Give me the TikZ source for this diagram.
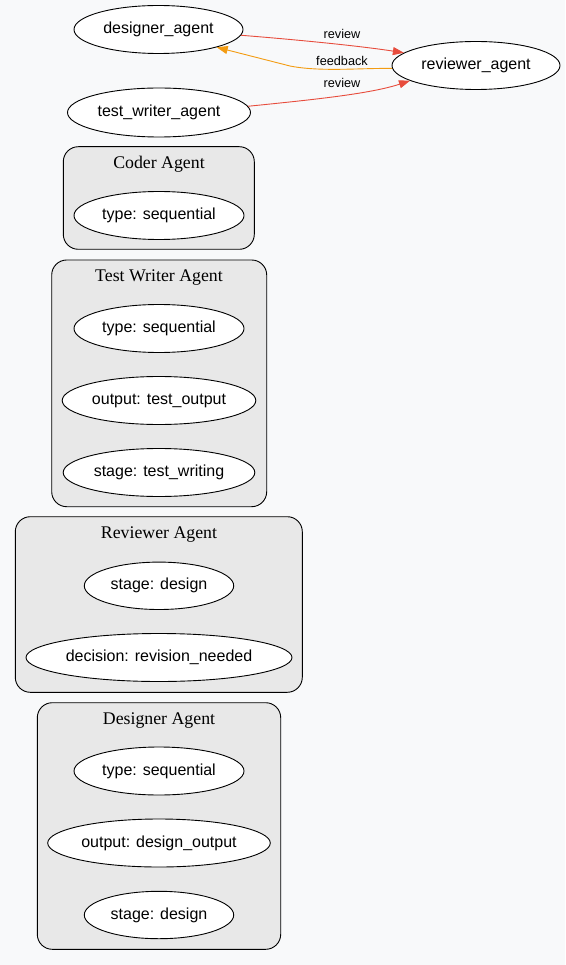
\documentclass[tikz,border=0pt]{standalone}
\usepackage{fontspec}
\setmainfont{Liberation Sans}
\newfontfamily\titlefont{Liberation Serif}
\usetikzlibrary{shapes.geometric,arrows.meta}
\definecolor{bgc}{HTML}{F8F9FA}
\definecolor{clusterfill}{HTML}{E8E8E8}
\definecolor{revred}{HTML}{E74C3C}
\definecolor{fborange}{HTML}{F39C12}
\tikzset{
  agent/.style={draw=black, fill=white, ellipse, inner sep=0pt, line width=0.9pt,
    font=\fontsize{16}{19}\selectfont},
  cluster/.style={draw=black, fill=clusterfill, rounded corners=15pt, line width=0.9pt},
  ctitle/.style={font=\titlefont\fontsize{17.8}{20}\selectfont, inner sep=0pt},
  elabel/.style={font=\fontsize{12.7}{15}\selectfont, inner sep=0pt},
  conn/.style={line width=0.9pt, -{Triangle[length=11pt,width=8pt]}},
}
\begin{document}
\begin{tikzpicture}[x=1pt,y=-1pt]
\fill[bgc] (0,0) rectangle (565,965);
\useasboundingbox (0,0) rectangle (565,965);

% top nodes
\node[agent, minimum width=169pt, minimum height=48pt] (designer) at (158.5,29.5) {designer\_agent};
\node[agent, minimum width=168pt, minimum height=48pt] (reviewer) at (476,65.5) {reviewer\_agent};
\node[agent, minimum width=183pt, minimum height=49pt] (testwriter) at (159,112.5) {test\_writer\_agent};

% edges
\draw[conn, revred] (designer.-4) .. controls (300,40) and (360,46) .. (reviewer.170);
\draw[conn, fborange] (reviewer.182) .. controls (360,68) and (320,72) .. (290,66) -- (designer.-17);
\draw[conn, revred] (testwriter.4) .. controls (310,100) and (370,94) .. (reviewer.193);
\node[elabel] (l1) at (342,34) {review};
\node[elabel] (l2) at (342,60.5) {feedback};
\node[elabel] (l3) at (342,82.5) {review};

% Coder Agent
\draw[cluster] (63.3,146.7) rectangle (254.3,249.3);
\node[ctitle] (t1) at (159,164) {Coder Agent};
\node[agent, minimum width=170pt, minimum height=48pt] (c1) at (159,215.5) {type: sequential};

% Test Writer Agent
\draw[cluster] (51.7,260) rectangle (266.7,506.7);
\node[ctitle] (t2) at (159,278) {Test Writer Agent};
\node[agent, minimum width=170pt, minimum height=48pt] (tw1) at (159,328.5) {type: sequential};
\node[agent, minimum width=193.6pt, minimum height=48pt] (tw2) at (159,400.5) {output: test\_output};
\node[agent, minimum width=191.6pt, minimum height=48pt] (tw3) at (159,472.5) {stage: test\_writing};

% Reviewer Agent
\draw[cluster] (15.3,516.7) rectangle (302.3,692.3);
\node[ctitle] (t3) at (159,535) {Reviewer Agent};
\node[agent, minimum width=149.4pt, minimum height=47.4pt] (r1) at (159,585.8) {stage: design};
\node[agent, minimum width=266pt, minimum height=48pt] (r2) at (159,657.5) {decision: revision\_needed};

% Designer Agent
\draw[cluster] (37.3,702.7) rectangle (280.7,949.3);
\node[ctitle] (t4) at (159,720.5) {Designer Agent};
\node[agent, minimum width=170pt, minimum height=48pt] (d1) at (159,771) {type: sequential};
\node[agent, minimum width=222.6pt, minimum height=48pt] (d2) at (159,843) {output: design\_output};
\node[agent, minimum width=149.4pt, minimum height=47.4pt] (d3) at (159,915) {stage: design};
\end{tikzpicture}
\end{document}
